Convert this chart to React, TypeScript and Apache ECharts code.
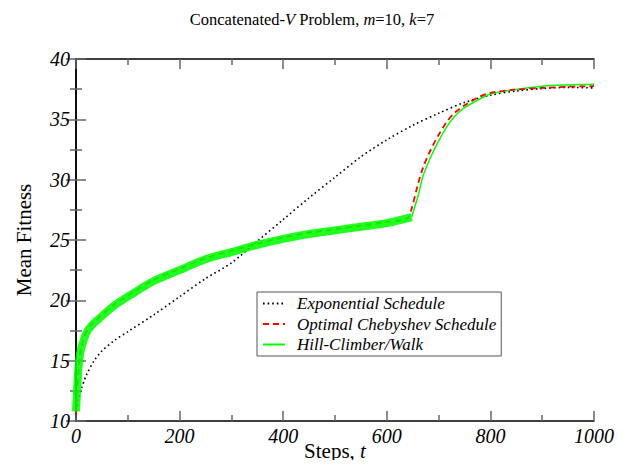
import React, { useEffect, useRef } from "react";
import * as echarts from "echarts";

const FONT = "Liberation Serif";

// Exponential Schedule (black dotted)
const tExp = [0, 5, 10, 20, 35, 50, 75, 100, 150, 200, 250, 300, 350, 400, 450, 500, 550, 600, 650, 700, 750, 800, 850, 900, 950, 1000];
const yExp = [10.5, 11.8, 12.6, 13.8, 15.0, 15.8, 16.7, 17.4, 18.8, 20.3, 21.8, 23.1, 24.9, 26.7, 28.5, 30.2, 31.9, 33.3, 34.5, 35.5, 36.4, 37.0, 37.35, 37.55, 37.65, 37.6];

// Hill-Climber/Walk, noisy phase (green band)
const tHillBand = [0, 2, 5, 8, 12, 20, 30, 45, 75, 100, 150, 200, 250, 300, 350, 400, 450, 500, 550, 600, 648];
const yHillBand = [10.8, 12.5, 14.5, 15.6, 16.3, 17.3, 17.9, 18.5, 19.6, 20.3, 21.6, 22.5, 23.4, 24.0, 24.6, 25.1, 25.5, 25.8, 26.1, 26.4, 26.9];

// Hill-Climber/Walk, smooth phase (thin green)
const tHill = [648, 650, 660, 670, 685, 700, 716, 730, 748, 780, 800, 844, 900, 950, 1000];
const yHill = [26.9, 27.2, 28.6, 30.3, 31.9, 33.2, 34.4, 35.2, 35.9, 36.7, 37.1, 37.45, 37.75, 37.85, 37.9];

// Optimal Chebyshev Schedule (red dashed)
const tCheb = [0, 2, 5, 8, 12, 20, 30, 45, 75, 100, 150, 200, 250, 300, 350, 400, 450, 500, 550, 600, 640, 648, 660, 670, 685, 700, 716, 730, 748, 780, 800, 844, 900, 950, 1000];
const yCheb = [10.5, 12.3, 14.3, 15.6, 16.4, 17.4, 18.0, 18.6, 19.7, 20.4, 21.7, 22.6, 23.5, 24.1, 24.7, 25.2, 25.6, 25.9, 26.2, 26.5, 26.8, 27.6, 29.6, 31.0, 32.5, 33.7, 34.8, 35.5, 36.1, 36.9, 37.2, 37.45, 37.6, 37.7, 37.75];

const X_TICKS = { min: 0, max: 1000, interval: 200 };
const Y_TICKS = { min: 10, max: 40, interval: 5 };

const zip = (t: number[], y: number[]) => t.map((v, i) => [v, y[i]]);

export default function App() {
  const ref = useRef<HTMLDivElement>(null);
  useEffect(() => {
    if (!ref.current) return;
    const chart = echarts.init(ref.current, undefined, { renderer: "svg" });
    const tickCommon = {
      axisLine: { show: true, lineStyle: { color: "#000", width: 1.5 } },
      axisTick: { show: true, inside: true, length: 10, lineStyle: { color: "#666", width: 1.5 } },
      minorTick: { show: true, splitNumber: 2, length: 6, lineStyle: { color: "#666", width: 1.5 } },
      splitLine: { show: false },
      minorSplitLine: { show: false },
    };
    const labelStyle = { fontFamily: FONT, fontStyle: "italic", fontSize: 20, color: "#000", formatter: (v: number) => String(v) };
    const hideSym = { itemStyle: { opacity: 0 } };
    const option: any = {
      animation: false,
      backgroundColor: "#fff",
      textStyle: { fontFamily: FONT },
      grid: { left: 76, right: 35, top: 59, bottom: 47, containLabel: false, outerBoundsMode: "none" },
      graphic: [
        {
          type: "text",
          x: 312,
          y: 19,
          style: {
            text: "Concatenated-{i|V} Problem, {i|m}=10, {i|k}=7",
            align: "center",
            verticalAlign: "middle",
            fontFamily: FONT,
            fontSize: 16.5,
            fill: "#000",
            rich: { i: { fontFamily: FONT, fontSize: 16.5, fontStyle: "italic", fill: "#000" } },
          },
        },
      ],
      legend: {
        data: [
          { name: "Exponential Schedule", ...hideSym },
          { name: "Optimal Chebyshev Schedule", ...hideSym },
          { name: "Hill-Climber/Walk", ...hideSym },
        ],
        orient: "vertical",
        left: 257,
        top: 292,
        itemWidth: 22,
        itemHeight: 14,
        itemGap: 3.5,
        padding: [3, 5, 3, 5],
        borderColor: "#555",
        borderWidth: 1,
        backgroundColor: "#fff",
        z: 10,
        textStyle: { fontFamily: FONT, fontStyle: "italic", fontSize: 17, color: "#000", padding: [0, 0, 0, 7] },
      },
      xAxis: [
        {
          type: "value",
          position: "bottom",
          ...X_TICKS,
          ...tickCommon,
          axisLabel: { ...labelStyle, margin: 5 },
          name: "Steps, {i|t}",
          nameLocation: "middle",
          nameGap: 19,
          nameMoveOverlap: false,
          nameTextStyle: {
            fontFamily: FONT,
            fontSize: 21,
            color: "#000",
            rich: { i: { fontFamily: FONT, fontSize: 21, fontStyle: "italic", color: "#000" } },
          },
        },
        {
          type: "value",
          position: "top",
          ...X_TICKS,
          ...tickCommon,
          axisLabel: { show: false },
        },
      ],
      yAxis: [
        {
          type: "value",
          position: "left",
          ...Y_TICKS,
          ...tickCommon,
          axisLabel: { ...labelStyle, margin: 6 },
          name: "Mean Fitness",
          nameLocation: "middle",
          nameGap: 41.5,
          nameMoveOverlap: false,
          nameTextStyle: { fontFamily: FONT, fontSize: 21, color: "#000" },
        },
        {
          type: "value",
          position: "right",
          ...Y_TICKS,
          ...tickCommon,
          axisLabel: { show: false },
        },
      ],
      series: [
        {
          name: "Exponential Schedule",
          type: "line",
          data: zip(tExp, yExp),
          symbol: "none",
          smooth: 0.3,
          z: 2,
          lineStyle: { color: "#000", width: 1.6, type: [1.6, 3] },
          itemStyle: { color: "#000" },
        },
        {
          name: "Hill-Climber/Walk",
          type: "line",
          data: zip(tHill, yHill),
          symbol: "none",
          smooth: 0.3,
          z: 3,
          lineStyle: { color: "#00ff00", width: 1.5 },
          itemStyle: { color: "#00ff00" },
        },
        {
          name: "Optimal Chebyshev Schedule",
          type: "line",
          data: zip(tCheb, yCheb),
          symbol: "none",
          smooth: 0.3,
          z: 4,
          lineStyle: { color: "#ff0000", width: 1.8, type: [6, 4] },
          itemStyle: { color: "#ff0000" },
        },
        {
          name: "Hill-Climber/Walk band",
          type: "line",
          data: zip(tHillBand, yHillBand),
          symbol: "none",
          smooth: 0.3,
          z: 5,
          lineStyle: { color: "#00ff00", width: 8, join: "round", cap: "butt", opacity: 0.88 },
          itemStyle: { color: "#00ff00" },
        },
      ],
    };
    chart.setOption(option);
    return () => chart.dispose();
  }, []);
  return <div ref={ref} style={{ width: 629, height: 468, margin: -8 }} />;
}
